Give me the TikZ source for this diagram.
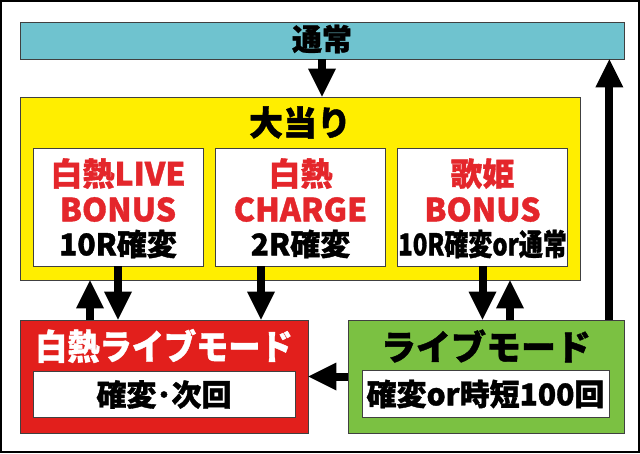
\documentclass[tikz,border=0pt]{standalone}
\usepackage{fontspec}
\setmainfont{Noto Sans CJK JP}[BoldFeatures={FakeBold=1.2}]
\usepackage{xcolor}
\usetikzlibrary{arrows.meta,calc}

\definecolor{tsujocol}{HTML}{6FC3CF}
\definecolor{ataricol}{HTML}{FFEE00}
\definecolor{hotred}{HTML}{E21F1C}
\definecolor{hottxt}{HTML}{E4262B}
\definecolor{livegreen}{HTML}{7BC142}

\begin{document}
\begin{tikzpicture}[x=1pt,y=-1pt,
  box/.style={rectangle,draw=black!75,line width=0.8pt,inner sep=0pt},
  bonusbox/.style={box,fill=white,minimum width=170,minimum height=118},
  redtxt/.style={inner sep=0pt,text=hottxt,font=\fontsize{32}{32}\selectfont\bfseries},
  blktxt/.style={inner sep=0pt,font=\fontsize{30}{30}\selectfont\bfseries},
  flow/.style={line width=8pt,-{Triangle[width=28pt,length=28pt,line width=0pt]}}]
  \useasboundingbox (0,0) rectangle (640,453);
  \draw[line width=2pt] (1,1) rectangle (639,452);

  \node[box,fill=tsujocol,minimum width=604,minimum height=37] (tsujo) at (322,40.5) {};
  \node[inner sep=0pt,font=\fontsize{30}{30}\selectfont\bfseries] (tsujolbl) at (322,39) {通常};

  \node[box,fill=ataricol,minimum width=560,minimum height=183] (ooatari) at (300,188.5) {};
  \node[inner sep=0pt,font=\fontsize{34}{34}\selectfont\bfseries] (ooatarilbl) at (300,122.5) {大当り};

  \foreach \n/\x/\la/\lb/\lc in {1/118/白熱LIVE/BONUS/10R確変,
                                 2/300.5/白熱/CHARGE/2R確変,
                                 3/482.5/歌姫/BONUS/{\scalebox{0.8}[1]{10R確変or通常}}}{
    \node[bonusbox] (b\n) at (\x,207) {};
    \node[redtxt] (b\n-1) at (\x,173.5) {\la};
    \node[redtxt] (b\n-2) at (\x,209.5) {\lb};
    \node[blktxt] (b\n-3) at (\x,244) {\lc};
  }

  \node[box,fill=hotred,minimum width=288,minimum height=113] (hmode) at (164,376.5) {};
  \node[inner sep=0pt,text=white,font=\fontsize{35}{35}\selectfont\bfseries] (hmodelbl) at (164,346) {\scalebox{0.92}[1]{白熱ライブモード}};
  \node[box,fill=white,minimum width=262,minimum height=46] (hin) at (164,394) {};
  \node[blktxt] (hinlbl) at (164,394.5) {確変･次回};

  \node[box,fill=livegreen,minimum width=276,minimum height=113] (lmode) at (486,376.5) {};
  \node[inner sep=0pt,font=\fontsize{35}{35}\selectfont\bfseries] (lmodelbl) at (486,346) {ライブモード};
  \node[box,fill=white,minimum width=247,minimum height=47] (lin) at (485.5,393.5) {};
  \node[blktxt] (linlbl) at (485.5,394) {確変or時短100回};

  \coordinate (u1) at ([xshift=-28]b1.south);
  \coordinate (d2) at ([xshift=-39.5]b2.south);
  \coordinate (u3) at ([xshift=27.5]b3.south);
  \coordinate (u4) at ([xshift=-15]lmode.north east);

  \draw[flow] (tsujo.south) -- (tsujo.south |- ooatari.north);
  \draw[flow] (u1 |- hmode.north) -- (u1 |- ooatari.south);
  \draw[flow] (b1.south) -- (b1.south |- hmode.north);
  \draw[flow] (d2) -- (d2 |- hmode.north);
  \draw[flow] (b3.south) -- (b3.south |- lmode.north);
  \draw[flow] (u3 |- lmode.north) -- (u3 |- ooatari.south);
  \draw[flow] (lmode.west) -- (hmode.east);
  \draw[flow] (u4) -- (u4 |- tsujo.south);
\end{tikzpicture}
\end{document}
